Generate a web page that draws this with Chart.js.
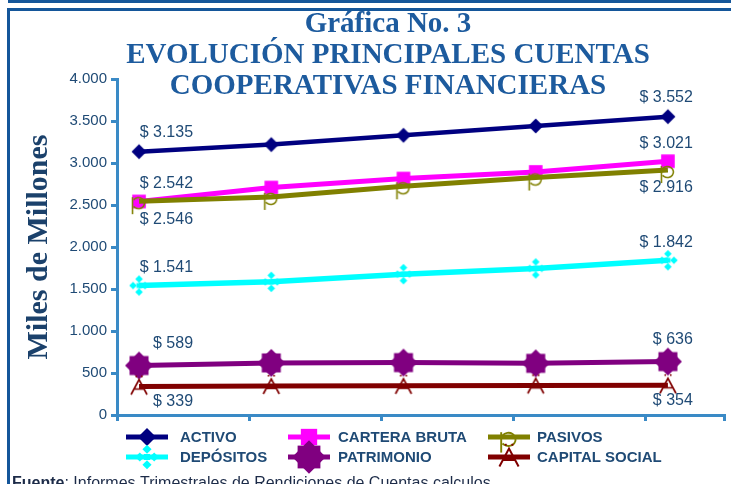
<!DOCTYPE html>
<html>
<head>
<meta charset="utf-8">
<script src="https://cdn.jsdelivr.net/npm/chart.js@4.4.1/dist/chart.umd.min.js"></script>
<style>
  html, body { margin: 0; padding: 0; background: #ffffff; }
  #wrap { position: relative; width: 731px; height: 484px; overflow: hidden; }
  canvas { display: block; }
</style>
</head>
<body>
<div id="wrap"><canvas id="chart" width="731" height="484"></canvas></div>
<script>
// ---------------- DATA ----------------
const categories = ['Período 1', 'Período 2', 'Período 3', 'Período 4', 'Período 5'];
const seriesNames = ['ACTIVO', 'CARTERA BRUTA', 'PASIVOS', 'DEPÓSITOS', 'PATRIMONIO', 'CAPITAL SOCIAL'];
const activo        = [3135, 3219, 3330, 3441, 3552];
const carteraBruta  = [2542, 2708, 2815, 2894, 3021];
const pasivos       = [2546, 2596, 2723, 2827, 2916];
const depositos     = [1541, 1585, 1677, 1745, 1842];
const patrimonio    = [589, 620, 624, 615, 636];
const capitalSocial = [339, 346, 348, 352, 354];
const yTickValues   = [0, 500, 1000, 1500, 2000, 2500, 3000, 3500, 4000];
const titleLines    = ['Gráfica No. 3', 'EVOLUCIÓN PRINCIPALES CUENTAS', 'COOPERATIVAS FINANCIERAS'];
const yAxisTitle    = 'Miles de Millones';
const sourceLabel   = 'Fuente';
const sourceText    = ': Informes Trimestrales de Rendiciones de Cuentas calculos';

// ---------------- STYLE ----------------
const AXIS_BLUE = '#3a8ac6';
const FRAME_BLUE = '#14569a';
const TITLE_BLUE = '#1d5b9e';
const LABEL_COLOR = '#1f4a75';
const YTITLE_COLOR = '#1b416b';

function fmt(v) {
  return String(Math.round(v)).replace(/\B(?=(\d{3})+(?!\d))/g, '.');
}

function makeMarker(kind, color, s) {
  const size = 2 * Math.ceil(20 * s);
  const c = document.createElement('canvas');
  c.width = size; c.height = size;
  const g = c.getContext('2d');
  const cx = size / 2, cy = size / 2;
  g.fillStyle = color; g.strokeStyle = color;
  const diamond = (x, y, r) => { g.beginPath(); g.moveTo(x, y - r); g.lineTo(x + r, y); g.lineTo(x, y + r); g.lineTo(x - r, y); g.closePath(); g.fill(); };
  if (kind === 'diamond') {
    diamond(cx, cy, 7.5 * s);
  } else if (kind === 'square') {
    const h = 6.8 * s;
    g.fillRect(cx - h, cy - h, 2 * h, 2 * h);
  } else if (kind === 'p') {
    g.lineWidth = 1.6 * s;
    g.beginPath();
    g.moveTo(cx - 6.5 * s, cy - 4 * s);
    g.lineTo(cx - 6.5 * s, cy + 13 * s);
    g.stroke();
    g.beginPath();
    g.ellipse(cx - 0.5 * s, cy + 2 * s, 6 * s, 5.5 * s, 0, -Math.PI * 0.8, Math.PI * 0.8);
    g.stroke();
  } else if (kind === 'cross4') {
    diamond(cx, cy - 6.5 * s, 3.8 * s);
    diamond(cx, cy + 6.5 * s, 3.8 * s);
    diamond(cx - 6 * s, cy, 3.8 * s);
    diamond(cx + 6 * s, cy, 3.8 * s);
    g.fillRect(cx - 2.5 * s, cy - 2.5 * s, 5 * s, 5 * s);
  } else if (kind === 'star') {
    diamond(cx, cy, 14 * s);
    const h = 9.5 * s;
    g.fillRect(cx - h, cy - h, 2 * h, 2 * h);
  } else if (kind === 'A') {
    g.lineWidth = 1.7 * s;
    g.beginPath();
    g.moveTo(cx - 8 * s, cy + 8 * s);
    g.lineTo(cx, cy - 7 * s);
    g.lineTo(cx + 8 * s, cy + 8 * s);
    g.moveTo(cx - 4.5 * s, cy + 2.5 * s);
    g.lineTo(cx + 4.5 * s, cy + 2.5 * s);
    g.stroke();
    g.fillRect(cx - 3.5 * s, cy - 11 * s, 1.6 * s, 1.6 * s);
    g.fillRect(cx + 2 * s, cy - 11 * s, 1.6 * s, 1.6 * s);
  }
  return c;
}

const seriesValues = [activo, carteraBruta, pasivos, depositos, patrimonio, capitalSocial];
const seriesColors = ['#000080', '#ff00ff', '#808000', '#00ffff', '#800080', '#800000'];
const seriesMarkers = ['diamond', 'square', 'p', 'cross4', 'star', 'A'];
const seriesLineWidths = [4.5, 5, 5, 5.5, 5, 5];
// offset in px from point centre to label centre (negative = above)
const seriesLabelOffsets = [-19, -18, 18, -17.5, -22, 15];

const datasets = seriesValues.map((vals, i) => ({
  label: seriesNames[i],
  data: categories.map((c, j) => ({ x: j, y: vals[j] })),
  borderColor: seriesColors[i],
  backgroundColor: seriesColors[i],
  borderWidth: seriesLineWidths[i],
  pointStyle: makeMarker(seriesMarkers[i], seriesColors[i], 1),
  legendMarker: makeMarker(seriesMarkers[i], seriesColors[i], 1.2),
  labelOffset: seriesLabelOffsets[i],
  pointRadius: 8,
  tension: 0,
  order: seriesValues.length - i
}));

const decorPlugin = {
  id: 'decor',
  beforeDraw(chart) {
    const ctx = chart.ctx;
    ctx.save();
    ctx.fillStyle = '#ffffff';
    ctx.fillRect(0, 0, chart.width, chart.height);
    ctx.fillStyle = FRAME_BLUE;
    ctx.fillRect(8, 0, chart.width - 8, 3);
    ctx.fillRect(8, 0, 2, 3);
    ctx.fillRect(7, 8, chart.width - 7, 3);
    ctx.fillRect(7, 8, 3, chart.height - 8);
    ctx.restore();
  },
  afterDraw(chart) {
    const ctx = chart.ctx;
    ctx.save();
    // title
    ctx.fillStyle = TITLE_BLUE;
    ctx.font = 'bold 29px "Liberation Serif", "Times New Roman", serif';
    ctx.textAlign = 'center';
    ctx.textBaseline = 'alphabetic';
    const tb = [32, 63, 94];
    titleLines.forEach((t, k) => ctx.fillText(t, 388, tb[k]));

    // data labels (first and last point)
    ctx.font = '16px "Liberation Sans", Arial, sans-serif';
    ctx.fillStyle = LABEL_COLOR;
    ctx.textAlign = 'right';
    ctx.textBaseline = 'middle';
    chart.data.datasets.forEach((ds, i) => {
      const meta = chart.getDatasetMeta(i);
      const n = meta.data.length;
      [[0, 54], [n - 1, 25]].forEach(([j, dx]) => {
        const pt = meta.data[j];
        ctx.fillText('$ ' + fmt(ds.data[j].y), pt.x + dx, pt.y + ds.labelOffset);
      });
    });

    // legend
    const colLine = [126, 288, 488];
    const colText = [180, 338, 537];
    const rowY = [437, 457];
    ctx.font = 'bold 15px "Liberation Sans", Arial, sans-serif';
    ctx.textAlign = 'left';
    ctx.textBaseline = 'middle';
    chart.data.datasets.forEach((ds, i) => {
      const col = i % 3, row = Math.floor(i / 3);
      const y = rowY[row];
      ctx.strokeStyle = ds.borderColor;
      ctx.lineWidth = 5;
      ctx.beginPath();
      ctx.moveTo(colLine[col], y);
      ctx.lineTo(colLine[col] + 42, y);
      ctx.stroke();
      const m = ds.legendMarker;
      ctx.drawImage(m, colLine[col] + 21 - m.width / 2, y - m.height / 2);
      ctx.fillStyle = LABEL_COLOR;
      ctx.fillText(ds.label, colText[col], y + 1);
    });

    // source note
    ctx.fillStyle = '#1c2b48';
    ctx.font = 'bold 16px "Liberation Sans", Arial, sans-serif';
    ctx.textBaseline = 'alphabetic';
    ctx.fillText(sourceLabel, 12, 488);
    const w = ctx.measureText(sourceLabel).width;
    ctx.font = '16px "Liberation Sans", Arial, sans-serif';
    ctx.fillText(sourceText, 12 + w, 488);
    ctx.restore();
  }
};

const xTickOffset = 22 / 132;
const xMax = (724 - 140) / 132;

function clearScalePadding(scale) {
  scale.paddingLeft = 0;
  scale.paddingRight = 0;
  scale.paddingTop = 0;
  scale.paddingBottom = 0;
}

new Chart(document.getElementById('chart').getContext('2d'), {
  type: 'line',
  data: { datasets },
  options: {
    responsive: false,
    animation: false,
    devicePixelRatio: 1,
    layout: { autoPadding: false, padding: { left: 12, right: 7, top: 79, bottom: 49 } },
    plugins: {
      legend: { display: false },
      tooltip: { enabled: false },
      title: { display: false }
    },
    scales: {
      x: {
        type: 'linear',
        min: -xTickOffset,
        max: xMax,
        afterBuildTicks(scale) {
          const t = categories.map((c, j) => ({ value: j - xTickOffset }));
          t.push({ value: xMax });
          scale.ticks = t;
        },
        afterFit(scale) { scale.height = 20; clearScalePadding(scale); },
        ticks: { display: false },
        grid: { drawOnChartArea: false, color: AXIS_BLUE, lineWidth: 3, tickLength: 6 },
        border: { color: AXIS_BLUE, width: 3 }
      },
      y: {
        min: 0,
        max: 4000,
        afterBuildTicks(scale) { scale.ticks = yTickValues.map(v => ({ value: v })); },
        afterFit(scale) { scale.width = 105; clearScalePadding(scale); },
        ticks: {
          callback: (v) => fmt(v),
          color: LABEL_COLOR,
          font: { family: '"Liberation Sans", Arial, sans-serif', size: 15 },
          padding: 4
        },
        grid: { drawOnChartArea: false, color: AXIS_BLUE, lineWidth: 3, tickLength: 6 },
        border: { color: AXIS_BLUE, width: 3 },
        title: {
          display: true,
          text: yAxisTitle,
          color: YTITLE_COLOR,
          font: { family: '"Liberation Serif", "Times New Roman", serif', size: 30, weight: 'bold' },
          padding: { top: 9, bottom: 0 }
        }
      }
    }
  },
  plugins: [decorPlugin]
});
</script>
</body>
</html>
